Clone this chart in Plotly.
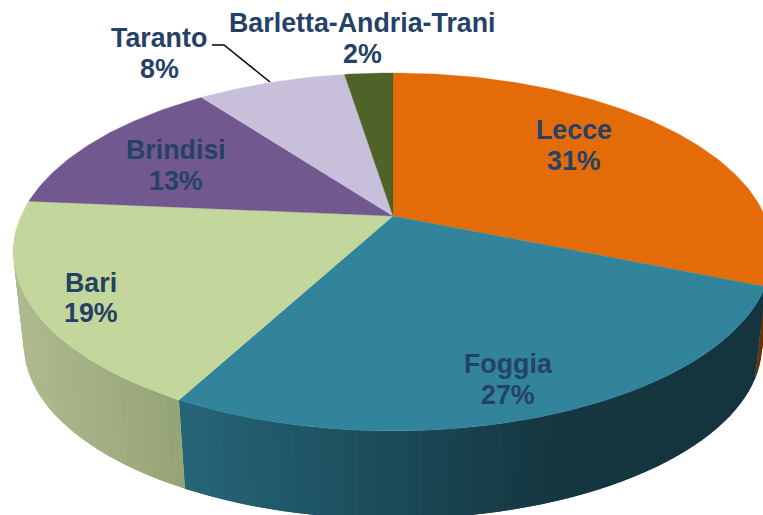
import math
import plotly.graph_objects as go

categories = ["Lecce", "Foggia", "Bari", "Brindisi", "Taranto", "Barletta-Andria-Trani"]
values = [31.2, 26.65, 18.55, 13.4, 7.7, 2.5]
percent_labels = ["31%", "27%", "19%", "13%", "8%", "2%"]

top_colors = ["#e36c09", "#31849b", "#c3d69b", "#71588f", "#c8bfda", "#4f6228"]
side_ramps = {
    "Lecce": [(700, (120, 58, 0)), (770, (105, 50, 0))],
    "Foggia": [(184, (38, 101, 119)), (393, (26, 74, 88)), (560, (21, 54, 64)), (770, (20, 52, 62))],
    "Bari": [(20, (174, 186, 142)), (184, (148, 163, 116))],
}

label_x = [574, 508, 91, 176, 159, 362]
name_y = [130, 364, 283, 150, 38, 23]
pct_y = [161, 395, 313, 181, 69, 54]
leader_x = [212, 224, 270]
leader_y = [45, 45, 82]
TEXT = "#264166"

# perspective disc parameters (pixels)
CX, CY, SX, SY, K = 393.0, 216.0, 372.0, 171.8, 0.201
B_SCALE, B_CY = 0.972, 310.0
WALL_FROM, WALL_TO = 94.0, 266.0


def top(theta):
    t = math.radians(theta)
    X, Y = math.sin(t), math.cos(t)
    d = 1 + K * Y
    return CX + SX * X / d, CY - SY * Y / d


def bottom(theta):
    t = math.radians(theta)
    X, Y = math.sin(t), math.cos(t)
    d = 1 + K * Y
    return CX + B_SCALE * SX * X / d, B_CY - B_SCALE * SY * Y / d


def ramp(name, x):
    stops = side_ramps[name]
    if x <= stops[0][0]:
        c = stops[0][1]
    elif x >= stops[-1][0]:
        c = stops[-1][1]
    else:
        for (x0, c0), (x1, c1) in zip(stops, stops[1:]):
            if x0 <= x <= x1:
                f = (x - x0) / (x1 - x0)
                c = tuple(a + (b - a) * f for a, b in zip(c0, c1))
                break
    return "rgb(%d,%d,%d)" % tuple(round(v) for v in c)


total = sum(values)
bounds = [0.0]
for v in values:
    bounds.append(bounds[-1] + v / total * 360.0)

fig = go.Figure()


def poly(xs, ys, color, width=0.0):
    fig.add_trace(go.Scatter(x=xs, y=ys, mode="lines", fill="toself", fillcolor=color,
                             line=dict(color=color, width=width), hoverinfo="skip", showlegend=False))


# outer wall: overlapping shaded strips, painted from the back of the wall forwards
STEP = 2.0
for i, name in enumerate(categories):
    if name not in side_ramps:
        continue
    a0 = max(bounds[i], WALL_FROM)
    a1 = min(bounds[i + 1], WALL_TO)
    a = a0
    while a < a1 - 1e-9:
        b = min(a + STEP, a1)
        b_over = min(b + STEP, a1)
        pts_t = [top(a + 0.0), top(b_over)]
        pts = pts_t + [bottom(b_over), bottom(a)]
        xs = [p[0] for p in pts] + [pts[0][0]]
        ys = [p[1] for p in pts] + [pts[0][1]]
        poly(xs, ys, ramp(name, (top(a)[0] + top(b)[0]) / 2), 0)
        a = b

# top face
for i, name in enumerate(categories):
    a0, a1 = bounds[i], bounds[i + 1]
    n = max(int((a1 - a0) / 1.0), 2)
    pts = [top(a0 + (a1 - a0) * j / n) for j in range(n + 1)]
    xs = [CX] + [p[0] for p in pts] + [CX]
    ys = [CY] + [p[1] for p in pts] + [CY]
    poly(xs, ys, top_colors[i], 0.3)

fig.add_trace(go.Scatter(x=leader_x, y=leader_y, mode="lines",
                         line=dict(color="black", width=1.5),
                         hoverinfo="skip", showlegend=False))

for i, name in enumerate(categories):
    for txt, y in ((name, name_y[i]), (percent_labels[i], pct_y[i])):
        fig.add_annotation(x=label_x[i], y=y, text="<b>%s</b>" % txt, showarrow=False,
                           xanchor="center", yanchor="middle",
                           font=dict(family="Liberation Sans", size=26.8, color=TEXT))

fig.update_layout(width=763, height=515, autosize=False,
                  margin=dict(l=0, r=0, t=0, b=0),
                  paper_bgcolor="white", plot_bgcolor="white", showlegend=False,
                  xaxis=dict(range=[0, 763], visible=False, fixedrange=True),
                  yaxis=dict(range=[515, 0], visible=False, fixedrange=True))

fig.write_html("out.html", config={"displayModeBar": False},
               post_script="document.body.style.margin='0';")
